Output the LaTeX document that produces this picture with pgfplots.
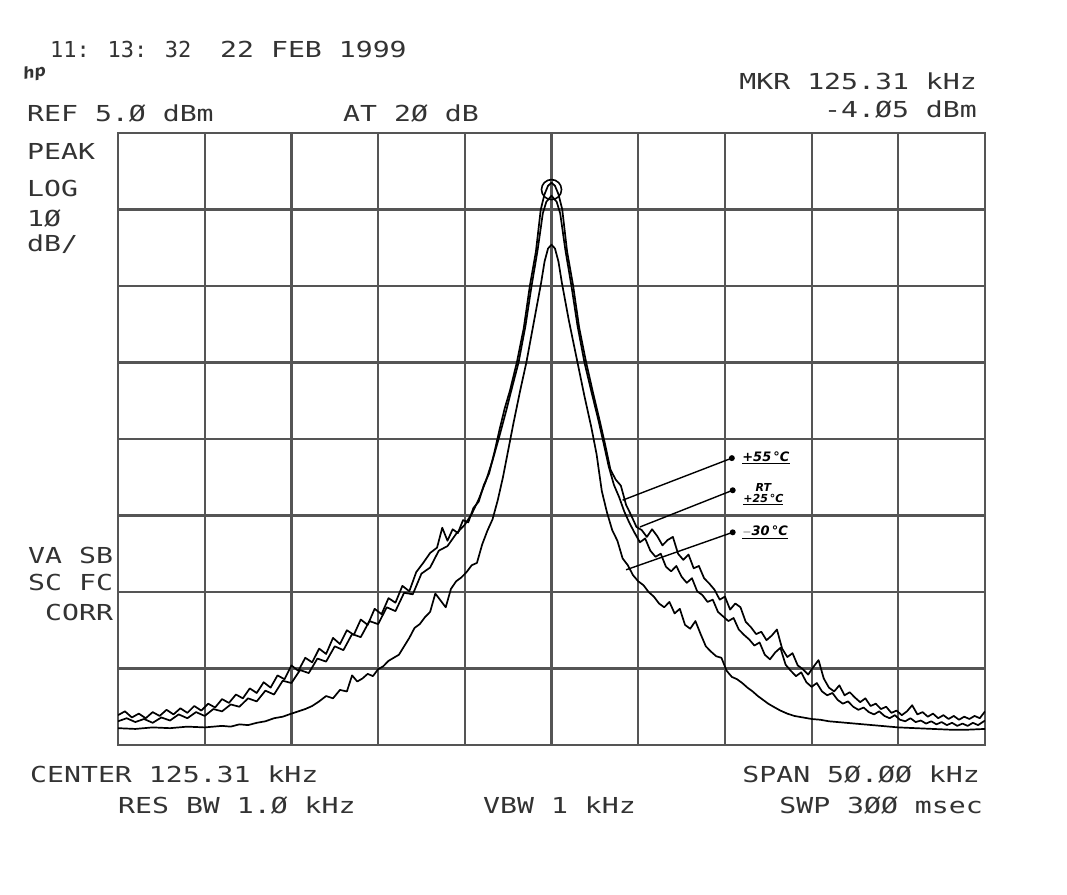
\documentclass[border=0pt]{standalone}
\usepackage{fontspec}
\usepackage{pgfplots}
\pgfplotsset{compat=1.18}
\newfontfamily\hp[FakeStretch=1.28]{DejaVu Sans Mono}
\newfontfamily\hpn{DejaVu Sans Mono}
\newfontfamily\hand{DejaVu Sans}
\definecolor{ink}{HTML}{333333}
\definecolor{gridc}{HTML}{555555}
\pgfplotsset{trace/.style={draw=black, line width=1.7pt, line join=round, mark=none}}

\begin{document}
\begin{tikzpicture}
\path[use as bounding box, fill=white] (-118pt,-149pt) rectangle (949pt,745pt);
\begin{axis}[
    at={(0pt,0pt)}, anchor=south west,
    scale only axis, width=867pt, height=612pt,
    xmin=-25, xmax=25, ymin=-75, ymax=5,
    xtick={-25,-20,...,25}, ytick={-75,-65,...,5},
    xticklabels={}, yticklabels={},
    major tick length=0pt,
    grid=major,
    major grid style={line width=2.2pt, gridc},
    axis line style={line width=2.2pt, gridc},
]
% +55 C
\addplot[trace] coordinates {
(-25.0,-71.1) (-24.6,-70.6) (-24.2,-71.4) (-23.8,-70.9) (-23.4,-71.5) (-23.0,-70.7)
(-22.6,-71.2) (-22.2,-70.4) (-21.8,-71.0) (-21.4,-70.2) (-21.0,-70.8) (-20.6,-69.9)
(-20.2,-70.5) (-19.8,-69.6) (-19.4,-70.1) (-19.0,-69.0) (-18.6,-69.5) (-18.2,-68.4)
(-17.8,-68.9) (-17.4,-67.6) (-17.0,-68.2) (-16.6,-66.8) (-16.2,-67.5) (-15.8,-65.9)
(-15.4,-66.4) (-15.0,-64.6) (-14.6,-65.3) (-14.2,-63.6) (-13.8,-64.2) (-13.4,-62.4)
(-13.0,-63.1) (-12.6,-61.0) (-12.2,-61.8) (-11.8,-60.0) (-11.4,-60.6) (-11.0,-58.6)
(-10.6,-59.3) (-10.2,-57.2) (-9.8,-57.9) (-9.4,-55.8) (-9.0,-56.4) (-8.6,-54.2)
(-8.2,-54.9) (-7.8,-52.4) (-7.4,-51.2) (-7.0,-49.9) (-6.6,-49.2) (-6.3,-46.6)
(-6.0,-48.3) (-5.7,-46.8) (-5.4,-47.3) (-5.1,-45.6) (-4.8,-45.9) (-4.5,-44.0)
(-4.2,-43.2) (-3.9,-41.0) (-3.6,-39.5) (-3.3,-36.8) (-3.0,-33.8) (-2.7,-31.0)
(-2.4,-28.7) (-2.0,-25.0) (-1.6,-20.5) (-1.25,-15.0) (-0.9,-10.5) (-0.62,-5.0)
(-0.4,-3.0) (-0.2,-1.9) (0,-1.5) (0.2,-1.9) (0.4,-3.0) (0.62,-5.0)
(0.9,-10.5) (1.25,-15.0) (1.6,-20.5) (2.0,-25.0) (2.4,-29.0) (2.8,-32.8)
(3.1,-35.8) (3.4,-39.0) (3.7,-40.3) (4.0,-41.1) (4.3,-43.6) (4.6,-45.0)
(4.9,-46.5) (5.2,-46.9) (5.5,-47.8) (5.8,-46.8) (6.1,-47.7) (6.4,-48.9)
(6.7,-48.2) (7.0,-47.8) (7.3,-50.0) (7.6,-50.8) (7.9,-50.1) (8.2,-51.9)
(8.5,-51.6) (8.8,-53.2) (9.1,-53.9) (9.4,-54.7) (9.7,-56.0) (10.0,-55.6)
(10.3,-57.3) (10.6,-56.5) (10.9,-57.0) (11.2,-58.9) (11.5,-59.6) (11.8,-60.5)
(12.1,-60.2) (12.4,-61.3) (12.7,-60.7) (13.0,-59.9) (13.3,-62.4) (13.6,-63.5)
(13.9,-63.0) (14.2,-64.6) (14.5,-65.1) (14.8,-65.8) (15.1,-64.8) (15.4,-63.9)
(15.7,-66.3) (16.0,-67.5) (16.3,-68.0) (16.6,-67.2) (16.9,-68.5) (17.2,-68.1)
(17.5,-68.8) (17.8,-69.4) (18.1,-68.9) (18.4,-69.9) (18.7,-69.6) (19.0,-70.3)
(19.3,-70.0) (19.6,-70.8) (19.9,-70.5) (20.2,-71.1) (20.5,-70.6) (20.8,-69.8)
(21.1,-71.0) (21.4,-70.7) (21.7,-71.3) (22.0,-70.9) (22.3,-71.5) (22.6,-71.1)
(22.9,-71.6) (23.2,-71.2) (23.5,-71.7) (23.8,-71.3) (24.1,-71.6) (24.4,-71.2)
(24.7,-71.5) (25.0,-70.6)
};
% room temperature
\addplot[trace] coordinates {
(-25.0,-71.9) (-24.5,-71.5) (-24.0,-72.0) (-23.5,-71.6) (-23.0,-72.1) (-22.5,-71.4)
(-22.0,-71.8) (-21.5,-71.0) (-21.0,-71.5) (-20.5,-70.7) (-20.0,-71.2) (-19.5,-70.3)
(-19.0,-70.6) (-18.5,-69.7) (-18.0,-70.0) (-17.5,-68.9) (-17.0,-69.3) (-16.5,-67.9)
(-16.0,-68.4) (-15.5,-66.6) (-15.0,-66.9) (-14.5,-65.2) (-14.0,-65.6) (-13.5,-63.7)
(-13.0,-64.1) (-12.5,-62.1) (-12.0,-62.6) (-11.5,-60.5) (-11.0,-60.9) (-10.5,-58.8)
(-10.0,-59.2) (-9.5,-57.0) (-9.0,-57.5) (-8.5,-55.1) (-8.0,-55.3) (-7.5,-52.6)
(-7.0,-51.8) (-6.5,-49.6) (-6.0,-49.0) (-5.5,-47.4) (-5.0,-46.2) (-4.6,-44.8)
(-4.2,-42.9) (-3.8,-40.6) (-3.4,-37.8) (-3.0,-34.6) (-2.6,-31.2) (-2.3,-28.5)
(-1.9,-25.0) (-1.5,-20.2) (-1.15,-15.0) (-0.8,-10.3) (-0.5,-5.5) (-0.3,-4.0)
(0,-3.2) (0.3,-4.0) (0.5,-5.5) (0.8,-10.3) (1.15,-15.0) (1.5,-20.2)
(1.9,-25.0) (2.3,-28.8) (2.7,-32.5) (3.0,-35.5) (3.3,-38.6) (3.6,-41.0)
(3.9,-42.6) (4.2,-44.5) (4.5,-46.0) (4.8,-47.3) (5.1,-48.5) (5.4,-48.0)
(5.7,-49.6) (6.0,-50.4) (6.3,-50.0) (6.6,-51.7) (6.9,-52.3) (7.2,-51.6)
(7.5,-53.0) (7.8,-53.8) (8.1,-53.2) (8.4,-54.9) (8.7,-55.4) (9.0,-56.3)
(9.3,-56.0) (9.6,-57.6) (9.9,-58.2) (10.2,-58.8) (10.5,-58.4) (10.8,-59.9)
(11.1,-60.6) (11.4,-61.2) (11.7,-62.0) (12.0,-61.6) (12.3,-63.2) (12.6,-63.8)
(12.9,-62.9) (13.2,-62.3) (13.5,-64.5) (13.8,-65.3) (14.1,-66.0) (14.4,-65.5)
(14.7,-66.8) (15.0,-67.4) (15.3,-66.9) (15.6,-68.0) (15.9,-68.5) (16.2,-68.2)
(16.5,-69.1) (16.8,-69.6) (17.1,-69.3) (17.4,-70.0) (17.7,-70.4) (18.0,-70.1)
(18.3,-70.7) (18.6,-71.0) (18.9,-70.6) (19.2,-71.2) (19.5,-71.5) (19.8,-71.1)
(20.1,-71.7) (20.4,-71.9) (20.7,-71.5) (21.0,-72.0) (21.3,-71.8) (21.6,-72.2)
(21.9,-71.9) (22.2,-72.3) (22.5,-72.0) (22.8,-72.4) (23.1,-72.1) (23.4,-72.5)
(23.7,-72.2) (24.0,-72.5) (24.3,-72.1) (24.6,-72.4) (25.0,-71.8)
};
% -30 C
\addplot[trace] coordinates {
(-25.0,-72.8) (-24.0,-72.9) (-23.0,-72.7) (-22.0,-72.8) (-21.0,-72.6) (-20.0,-72.7)
(-19.0,-72.5) (-18.5,-72.6) (-18.0,-72.3) (-17.5,-72.4) (-17.0,-72.1) (-16.5,-71.9)
(-16.0,-71.5) (-15.5,-71.3) (-15.0,-70.9) (-14.6,-70.6) (-14.2,-70.3) (-13.8,-69.9)
(-13.4,-69.3) (-13.0,-68.6) (-12.6,-68.9) (-12.2,-67.8) (-11.8,-68.0) (-11.5,-65.9)
(-11.2,-66.7) (-10.9,-66.3) (-10.6,-65.7) (-10.3,-66.0) (-10.0,-65.1) (-9.7,-64.7)
(-9.4,-64.0) (-9.1,-63.6) (-8.8,-63.2) (-8.5,-62.1) (-8.2,-61.0) (-7.9,-59.7)
(-7.6,-59.2) (-7.3,-58.3) (-7.0,-57.6) (-6.7,-55.2) (-6.4,-56.1) (-6.1,-57.0)
(-5.8,-54.6) (-5.5,-53.6) (-5.2,-53.1) (-4.9,-52.4) (-4.6,-51.5) (-4.3,-51.2)
(-4.0,-48.8) (-3.7,-47.0) (-3.4,-45.5) (-3.1,-43.0) (-2.8,-40.0) (-2.5,-36.5)
(-2.2,-33.0) (-1.8,-28.6) (-1.45,-25.0) (-1.0,-19.5) (-0.6,-14.6) (-0.4,-11.8)
(-0.2,-10.1) (0,-9.6) (0.2,-10.1) (0.4,-11.8) (0.6,-14.6) (1.0,-19.5)
(1.5,-25.0) (1.9,-29.4) (2.3,-33.5) (2.6,-37.0) (2.9,-41.8) (3.2,-44.6)
(3.5,-46.9) (3.8,-48.3) (4.1,-50.6) (4.4,-51.5) (4.7,-52.8) (5.0,-53.6)
(5.3,-54.1) (5.6,-55.0) (5.9,-55.6) (6.2,-56.5) (6.5,-57.0) (6.8,-56.3)
(7.1,-57.8) (7.4,-57.2) (7.7,-59.3) (8.0,-59.8) (8.3,-58.8) (8.6,-60.5)
(8.9,-62.1) (9.2,-62.8) (9.5,-63.4) (9.8,-63.6) (10.1,-65.3) (10.4,-66.1)
(10.7,-66.4) (11.0,-66.9) (11.3,-67.5) (11.6,-68.0) (11.9,-68.6) (12.2,-69.1)
(12.5,-69.6) (12.8,-70.0) (13.2,-70.5) (13.6,-70.9) (14.0,-71.2) (14.5,-71.4)
(15.0,-71.6) (15.5,-71.7) (16.0,-71.9) (16.5,-72.0) (17.0,-72.1) (18.0,-72.3)
(19.0,-72.5) (20.0,-72.7) (21.0,-72.8) (22.0,-72.9) (23.0,-73.0) (24.0,-73.0)
(25.0,-72.9)
};
% marker
\addplot[only marks, mark=o, mark size=10pt, mark options={draw=black, fill=none, line width=1.6pt}] coordinates {(0,-2.4)};

% handwritten labels
\draw[line width=1.4pt] (axis cs:10.4,-37.5) -- (axis cs:4.1,-43.0);
\draw[line width=1.4pt] (axis cs:10.45,-41.7) -- (axis cs:5.1,-46.5);
\draw[line width=1.4pt] (axis cs:10.45,-47.2) -- (axis cs:4.3,-52.1);
\fill (axis cs:10.4,-37.5) circle (3pt);
\fill (axis cs:10.45,-41.7) circle (3pt);
\fill (axis cs:10.45,-47.2) circle (3pt);
\node[anchor=west, font=\hand\bfseries\itshape\fontsize{13}{15}\selectfont] at (axis cs:10.8,-37.5) {\underline{+55\,°C}};
\node[anchor=west, font=\hand\bfseries\itshape\fontsize{11}{12}\selectfont, align=center, inner sep=1pt] at (axis cs:11.0,-42.2) {RT\\[-1pt]\underline{+25\,°C}};
\node[anchor=west, font=\hand\bfseries\itshape\fontsize{13}{15}\selectfont] at (axis cs:10.8,-47.2) {\underline{$-$30\,°C}};
\end{axis}

\begin{scope}[every node/.style={inner sep=0pt, text=ink, font=\hp\fontsize{22}{26}\selectfont}]
\node[anchor=base west, font=\hpn\fontsize{22}{26}\selectfont] at (-68pt,687pt) {11: 13: 32};
\node[anchor=base west] at (102pt,687pt) {22 FEB 1999};
\node[anchor=base west, font=\hand\bfseries\itshape\fontsize{16}{17}\selectfont, rotate=10] at (-94pt,665pt) {hp};
\node[anchor=base west] at (-91pt,623pt) {REF 5.Ø dBm};
\node[anchor=base west] at (225pt,623pt) {AT 2Ø dB};
\node[anchor=base east] at (859pt,655pt) {MKR 125.31 kHz};
\node[anchor=base east] at (859pt,627pt) {-4.Ø5 dBm};
\node[anchor=base west] at (-91pt,585pt) {PEAK};
\node[anchor=base west] at (-91pt,548pt) {LOG};
\node[anchor=base west] at (-91pt,518pt) {1Ø};
\node[anchor=base west] at (-91pt,493pt) {dB/};
\node[anchor=base west] at (-90pt,182pt) {VA SB};
\node[anchor=base west] at (-90pt,155pt) {SC FC};
\node[anchor=base west] at (-73pt,125pt) {CORR};
\node[anchor=base west] at (-88pt,-37pt) {CENTER 125.31 kHz};
\node[anchor=base east] at (862pt,-37pt) {SPAN 5Ø.ØØ kHz};
\node[anchor=base west] at (0pt,-68pt) {RES BW 1.Ø kHz};
\node[anchor=base west] at (365pt,-68pt) {VBW 1 kHz};
\node[anchor=base east] at (865pt,-68pt) {SWP 3ØØ msec};
\end{scope}
\end{tikzpicture}
\end{document}
